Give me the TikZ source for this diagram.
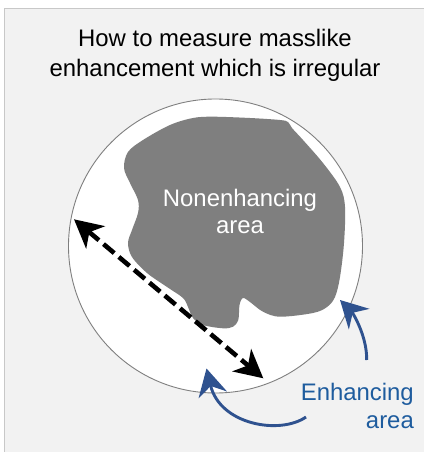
\documentclass[tikz,border=0pt]{standalone}
\usepackage{fontspec}
\setmainfont{Liberation Sans}
\usetikzlibrary{arrows.meta}
\definecolor{bgfill}{HTML}{F2F2F2}
\definecolor{bgline}{HTML}{C8C8C8}
\definecolor{ringline}{HTML}{7F7F7F}
\definecolor{blobfill}{HTML}{7F7F7F}
\definecolor{arrowblue}{HTML}{2F528F}
\definecolor{textblue}{HTML}{1E5C9E}
\tikzset{
  lbl/.style={inner sep=0pt, font=\fontsize{23.9}{28}\selectfont},
  measurearrow/.style={line width=4.6pt, dash pattern=on 14pt off 6pt,
    {Stealth[length=28pt,width=29pt,inset=8pt]}-{Stealth[length=28pt,width=29pt,inset=8pt]}},
  pointarrow/.style={line width=2.9pt, draw=arrowblue,
    -{Stealth[length=27pt,width=29pt,inset=9pt]}},
}
\begin{document}
\begin{tikzpicture}[x=1pt,y=-1pt]
\useasboundingbox (0,0) rectangle (424,452);
% background panel
\fill[bgfill] (4.5,8.5) rectangle (424,452);
\draw[bgline, line width=1.2pt] (4.5,452) -- (4.5,8.5) -- (424,8.5);
% title
\node[lbl, anchor=base] (title1) at (215,47) {How to measure masslike};
\node[lbl, anchor=base] (title2) at (215,76) {enhancement which is irregular};
% lesion
\draw[ringline, fill=white, line width=0.9pt] (215.5,246) circle[radius=147];
\fill[blobfill] plot[smooth cycle, tension=0.55] coordinates {
  (124,168) (128,152) (143,140) (170,125) (193,118) (213,116.7) (250,118)
  (280,120) (288,122) (292,128) (303,140) (323,163) (340,187) (345,207)
  (344,243) (340,277) (335,297) (327,307) (313,313) (280,316.7) (263,311.7)
  (250,302) (243,298) (239.5,305) (238.3,320) (233,326.7) (223,328.3)
  (203,325) (193,318) (188,307) (183,298) (167,287) (147,273) (132,257)
  (128,243) (132,230) (138,213) (138,200) (130,183)};
\node[lbl, anchor=base, text=white] (non1) at (240,206) {Nonenhancing};
\node[lbl, anchor=base, text=white] (non2) at (240,233) {area};
% measurement arrow
\coordinate (mA) at (74,219.3);
\coordinate (mB) at (263.3,378.3);
\draw[measurearrow] (mA) -- (mB);
% enhancing labels and arrows
\node[lbl, anchor=base east, text=textblue] (enh1) at (414,400) {Enhancing};
\node[lbl, anchor=base east, text=textblue] (enh2) at (414,428) {area};
\coordinate (r0) at (366.7,360);
\coordinate (r1) at (340,300);
\draw[pointarrow] (r0) .. controls (367,335) and (352,312) .. (r1);
\coordinate (b0) at (306,417);
\coordinate (b1) at (206.5,368.5);
\draw[pointarrow] (b0) .. controls (280,435) and (220,425) .. (b1);
\end{tikzpicture}
\end{document}
